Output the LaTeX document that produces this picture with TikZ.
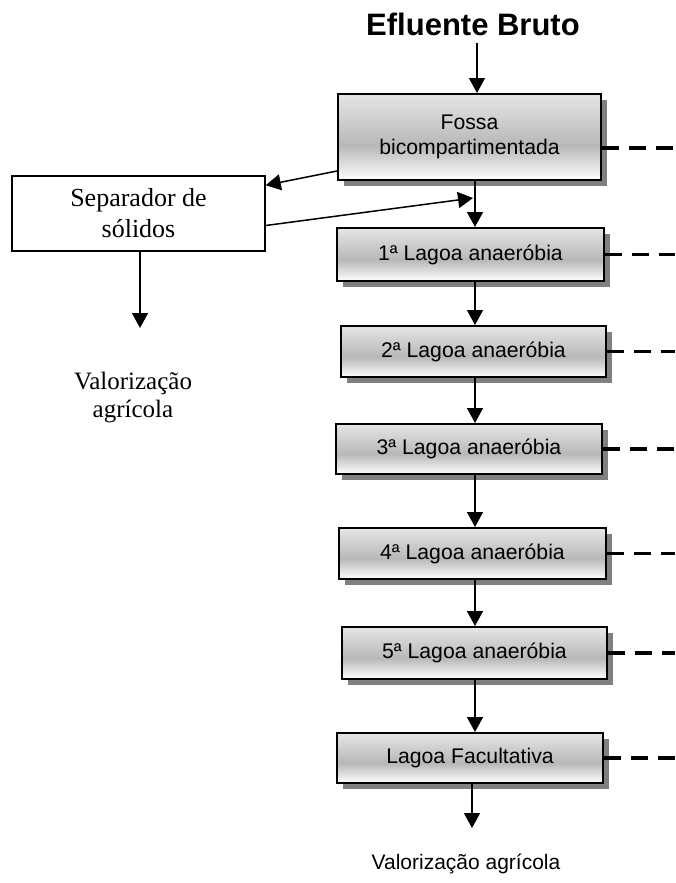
\documentclass[tikz,border=0pt]{standalone}
\usepackage{fontspec}
\usetikzlibrary{arrows.meta,shadows,calc}
\newfontfamily\arialf{Liberation Sans}
\newfontfamily\tnrf{Liberation Serif}
\pgfdeclareverticalshading{boxshade}{100bp}{color(0bp)=(white); color(25bp)=(white); color(45bp)=(black!28); color(75bp)=(black!10); color(100bp)=(black!10)}
\begin{document}
\begin{tikzpicture}[x=1pt,y=-1pt,
  pond/.style={draw=black, line width=2pt, shading=boxshade,
    drop shadow={shadow xshift=6pt, shadow yshift=-6pt, fill=black!50, opacity=1},
    inner sep=0pt, font=\arialf\fontsize{21.2}{25}\selectfont, align=center, text=black},
  plain/.style={draw=black, line width=1.5pt, fill=white, inner sep=0pt,
    font=\tnrf\fontsize{26}{31}\selectfont, align=center},
  arr/.style={line width=1.5pt, -{Triangle[length=15pt,width=16pt]}},
  dline/.style={line width=3.8pt, dash pattern=on 17pt off 10pt},
  lbl/.style={inner sep=0pt, align=center}]
\useasboundingbox (0,0) rectangle (675,883);
\coordinate (E) at (675,0);
\coordinate (ax) at (475,0);

\node[lbl, font=\arialf\bfseries\fontsize{31}{36}\selectfont] (T) at (473,24) {Efluente Bruto};

\node[pond, minimum width=263pt, minimum height=86pt] (F) at (469.5,137) {Fossa\\bicompartimentada};
\node[plain, minimum width=253pt, minimum height=75pt] (S) at (138.5,213.5) {Separador de\\sólidos};
\node[pond, minimum width=267pt, minimum height=53pt] (L1) at (470.5,254.5) {1ª Lagoa anaeróbia};
\node[pond, minimum width=265pt, minimum height=51pt] (L2) at (473.5,351.5) {2ª Lagoa anaeróbia};
\node[pond, minimum width=266pt, minimum height=50pt] (L3) at (469,449) {3ª Lagoa anaeróbia};
\node[pond, minimum width=267pt, minimum height=51pt] (L4) at (472.5,553.5) {4ª Lagoa anaeróbia};
\node[pond, minimum width=265pt, minimum height=52pt] (L5) at (474.5,653) {5ª Lagoa anaeróbia};
\node[pond, minimum width=266pt, minimum height=50pt] (L6) at (470,758) {Lagoa Facultativa};

\node[lbl, font=\tnrf\fontsize{25}{28}\selectfont] (V) at (133,398) {Valorização\\agrícola};
\node[lbl, font=\arialf\fontsize{21}{25}\selectfont] (VB) at (466,864) {Valorização agrícola};

% arrows
\draw[arr] ([xshift=4pt,yshift=-7pt]T.south) -- ([xshift=4pt]T.south |- F.north);
\draw[arr] (F.south -| ax) -- (L1.north -| ax);
\draw[arr] (L1.south -| ax) -- (L2.north -| ax);
\draw[arr] (L2.south -| ax) -- (L3.north -| ax);
\draw[arr] (L3.south -| ax) -- (L4.north -| ax);
\draw[arr] (L4.south -| ax) -- (L5.north -| ax);
\draw[arr] (L5.south -| ax) -- (L6.north -| ax);

\coordinate (j) at (473,198);
\draw[arr] ([yshift=10pt]F.south west) -- ([yshift=-10pt]S.north east);
\draw[arr] ([yshift=-12pt]S.east) -- (j);

\coordinate (v1) at (140,328);
\draw[arr] (S.south -| v1) -- (v1);
\coordinate (b1) at (472,828);
\draw[arr] (L6.south -| b1) -- (b1);

% dashed outlets
\draw[dline] ([yshift=-11pt]F.east) -- ([yshift=-11pt]F.east -| E);
\foreach \n in {L1,L2,L3,L4,L5,L6}{
  \draw[dline] (\n.east) -- (\n.east -| E);
}
\end{tikzpicture}
\end{document}
